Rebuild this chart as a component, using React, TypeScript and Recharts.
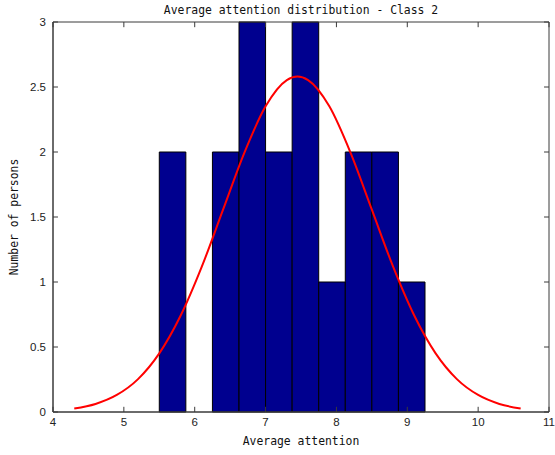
import { ComposedChart, Line, XAxis, YAxis, ReferenceArea, ReferenceLine, Label } from "recharts";

// histogram bins (10 bins, width 0.375)
const binEdges = [5.5, 5.875, 6.25, 6.625, 7.0, 7.375, 7.75, 8.125, 8.5, 8.875, 9.25];
const binCounts = [2, 0, 2, 3, 2, 3, 1, 2, 2, 1];

// fitted normal curve
const fitX = [4.3, 4.6, 4.9, 5.2, 5.5, 5.8, 6.1, 6.4, 6.7, 7.0, 7.3, 7.45, 7.6, 7.9, 8.2, 8.5, 8.8, 9.1, 9.4, 9.7, 10.0, 10.3, 10.6];
const fitY = [0.027, 0.062, 0.131, 0.253, 0.451, 0.74, 1.118, 1.556, 1.993, 2.351, 2.553, 2.58, 2.553, 2.351, 1.993, 1.556, 1.118, 0.74, 0.451, 0.253, 0.131, 0.062, 0.027];

const xTicks = [4, 5, 6, 7, 8, 9, 10, 11];
const yTicks = [0, 0.5, 1, 1.5, 2, 2.5, 3];

const X_DOMAIN: [number, number] = [4, 11];
const Y_DOMAIN: [number, number] = [0, 3];
// inward tick length in data units (~5px)
const X_TICK_LEN = 0.04;
const Y_TICK_LEN = 0.07;

const curve = fitX.map((x, i) => ({ x, y: fitY[i] }));
const bins = binCounts
  .map((count, i) => ({ from: binEdges[i], to: binEdges[i + 1], count }))
  .filter((b) => b.count > 0);

const AXIS = "#3a3a3a";
const tickStyle = { fill: "#222", fontSize: 11.5, fontFamily: "Liberation Sans" };
const labelStyle = { fill: "#111", fontSize: 11.4, fontFamily: "DejaVu Sans Mono" };

export default function App() {
  return (
    <div style={{ position: "absolute", left: 0, top: 0, width: 555, height: 455, background: "#fff" }}>
      <div
        style={{
          position: "absolute",
          left: 53,
          width: 496,
          top: 3,
          textAlign: "center",
          fontFamily: "DejaVu Sans Mono",
          fontSize: 11.4,
          color: "#111",
          lineHeight: "14px",
        }}
      >
        Average attention distribution - Class 2
      </div>
      <ComposedChart
        width={555}
        height={455}
        data={curve}
        margin={{ top: 22, right: 6, bottom: 10, left: 0 }}
      >
        <XAxis
          dataKey="x"
          type="number"
          domain={X_DOMAIN}
          ticks={xTicks}
          allowDataOverflow
          height={33}
          stroke={AXIS}
          tickLine={false}
          tickSize={0}
          tickMargin={6}
          tick={tickStyle}
        >
          <Label value="Average attention" position="insideBottom" offset={0} style={labelStyle} />
        </XAxis>
        <YAxis
          type="number"
          domain={Y_DOMAIN}
          ticks={yTicks}
          width={53}
          stroke={AXIS}
          tickLine={false}
          tickSize={0}
          tickMargin={7}
          tick={tickStyle}
        >
          <Label
            value="Number of persons"
            angle={-90}
            position="insideLeft"
            offset={14}
            style={{ ...labelStyle, textAnchor: "middle" }}
          />
        </YAxis>
        {bins.map((b, i) => (
          <ReferenceArea
            key={`bin-${i}`}
            x1={b.from}
            x2={b.to}
            y1={0}
            y2={b.count}
            fill="#00008f"
            fillOpacity={1}
            stroke="#000"
            strokeWidth={1}
          />
        ))}
        {/* axes box */}
        <ReferenceArea
          x1={X_DOMAIN[0]}
          x2={X_DOMAIN[1]}
          y1={Y_DOMAIN[0]}
          y2={Y_DOMAIN[1]}
          fill="none"
          fillOpacity={0}
          stroke={AXIS}
          strokeWidth={1}
        />
        {xTicks.map((t) => (
          <ReferenceLine
            key={`xb-${t}`}
            segment={[{ x: t, y: Y_DOMAIN[0] }, { x: t, y: Y_DOMAIN[0] + X_TICK_LEN }]}
            stroke={AXIS}
          />
        ))}
        {xTicks.map((t) => (
          <ReferenceLine
            key={`xt-${t}`}
            segment={[{ x: t, y: Y_DOMAIN[1] }, { x: t, y: Y_DOMAIN[1] - X_TICK_LEN }]}
            stroke={AXIS}
          />
        ))}
        {yTicks.map((t) => (
          <ReferenceLine
            key={`yl-${t}`}
            segment={[{ x: X_DOMAIN[0], y: t }, { x: X_DOMAIN[0] + Y_TICK_LEN, y: t }]}
            stroke={AXIS}
          />
        ))}
        {yTicks.map((t) => (
          <ReferenceLine
            key={`yr-${t}`}
            segment={[{ x: X_DOMAIN[1], y: t }, { x: X_DOMAIN[1] - Y_TICK_LEN, y: t }]}
            stroke={AXIS}
          />
        ))}
        <Line
          dataKey="y"
          type="monotone"
          stroke="#ff0000"
          strokeWidth={2}
          dot={false}
          isAnimationActive={false}
        />
      </ComposedChart>
    </div>
  );
}
